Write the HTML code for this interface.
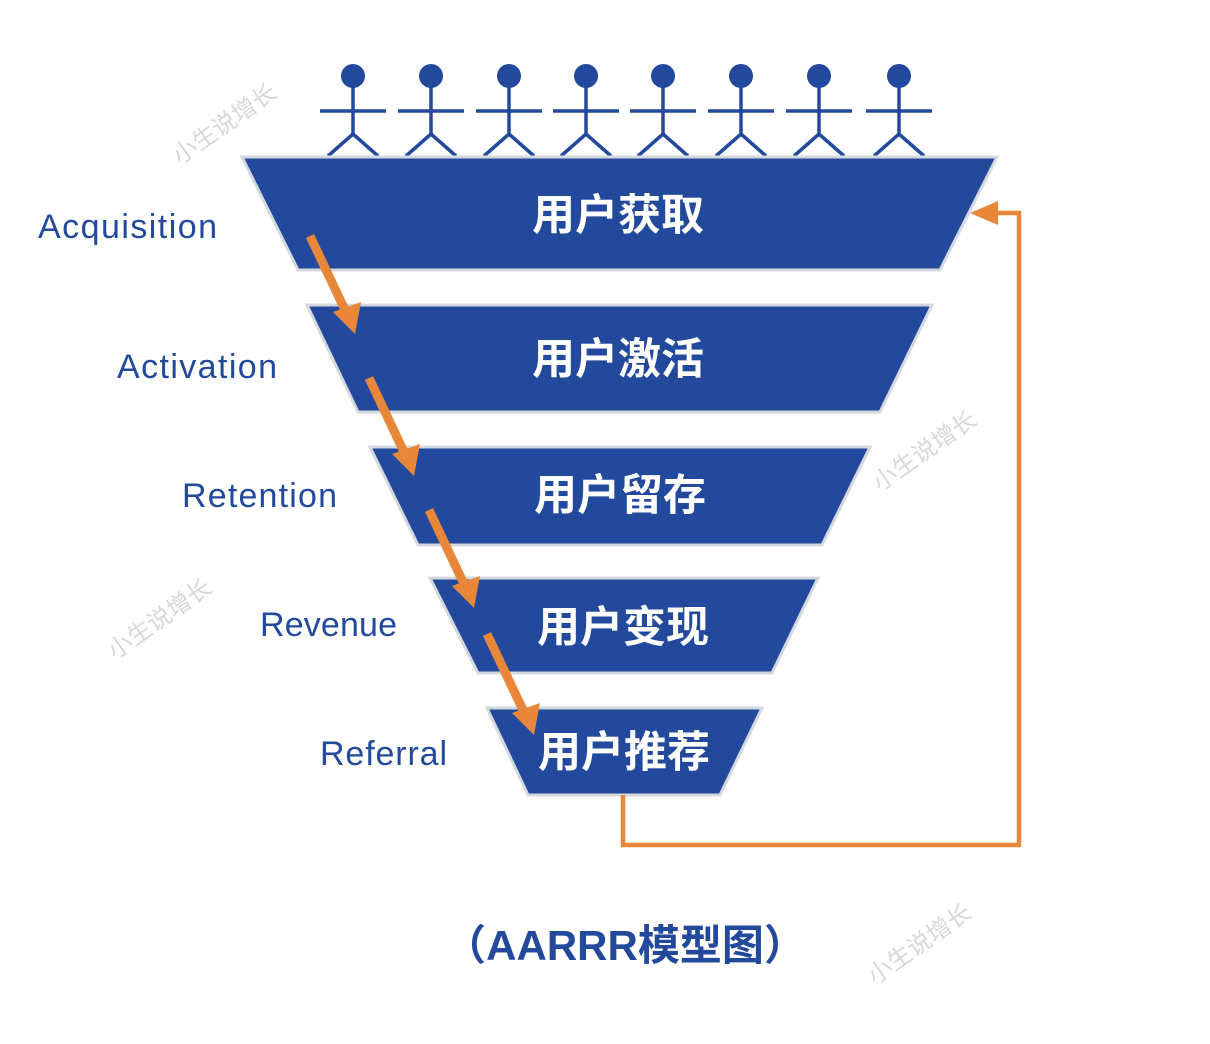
<!DOCTYPE html>
<html><head><meta charset="utf-8"><style>html,body{margin:0;padding:0;background:#fff}svg{display:block}</style></head><body>
<svg width="1210" height="1044" viewBox="0 0 1210 1044" xmlns="http://www.w3.org/2000/svg">
<rect width="1210" height="1044" fill="#fff"/>
<g font-family="'Liberation Sans','Noto Sans CJK SC',sans-serif" fill="#d8d8d8" font-size="24">
<text transform="translate(180,165) rotate(-35)">小生说增长</text>
<text transform="translate(880,492) rotate(-35)">小生说增长</text>
<text transform="translate(115,660) rotate(-35)">小生说增长</text>
<text transform="translate(875,985) rotate(-35)">小生说增长</text>
</g>
<g stroke="#23499c" stroke-width="3.5" fill="none">
<g id="p"><circle cx="353" cy="76" r="12" fill="#23499c" stroke="none"/><line x1="353" y1="86" x2="353" y2="134"/><line x1="320" y1="111" x2="386" y2="111"/><polyline points="328,156 353,134 378,156"/></g>
<use href="#p" x="78"/><use href="#p" x="156"/><use href="#p" x="233"/><use href="#p" x="310"/><use href="#p" x="388"/><use href="#p" x="466"/><use href="#p" x="546"/>
</g>
<g fill="#23499c" stroke="#d4d8e0" stroke-width="3">
<polygon points="242,157 997,157 940,270 298,270"/>
<polygon points="307,305 932,305 880,412 358,412"/>
<polygon points="370,447 870,447 822,545 418,545"/>
<polygon points="430,578 818,578 772,673 478,673"/>
<polygon points="487,708 762,708 720,795 528,795"/>
</g>
<g fill="#fff" font-family="'Liberation Sans','Noto Sans CJK SC',sans-serif" font-size="43" font-weight="bold" text-anchor="middle">
<text x="618" y="230">用户获取</text>
<text x="618" y="374">用户激活</text>
<text x="620" y="510">用户留存</text>
<text x="623" y="642">用户变现</text>
<text x="624" y="767">用户推荐</text>
</g>
<g fill="#23499c" font-family="'Liberation Sans',sans-serif" font-size="34">
<text x="38" y="238" textLength="179">Acquisition</text>
<text x="117" y="378" textLength="160">Activation</text>
<text x="182" y="507" textLength="155">Retention</text>
<text x="260" y="636" textLength="137">Revenue</text>
<text x="320" y="765" textLength="127">Referral</text>
</g>
<g stroke="#e8873a" stroke-width="9" fill="#e8873a">
<line x1="310" y1="236" x2="345" y2="310"/>
<line x1="369" y1="378" x2="404" y2="452"/>
<line x1="429" y1="510" x2="464" y2="584"/>
<line x1="487" y1="634" x2="523" y2="710"/>
</g>
<g fill="#e8873a">
<polygon points="355,334 333,312 361,302"/>
<polygon points="414,476 392,454 420,444"/>
<polygon points="474,608 452,586 480,576"/>
<polygon points="534,735 512,713 540,703"/>
<polygon points="970,213 998,201 998,225"/>
</g>
<polyline points="623,795 623,845 1019,845 1019,213 995,213" fill="none" stroke="#e8873a" stroke-width="4.5"/>
<text x="625" y="960" text-anchor="middle" fill="#23499c" font-family="'Liberation Sans','Noto Sans CJK SC',sans-serif" font-size="42" font-weight="bold">（AARRR模型图）</text>
</svg>
</body></html>
